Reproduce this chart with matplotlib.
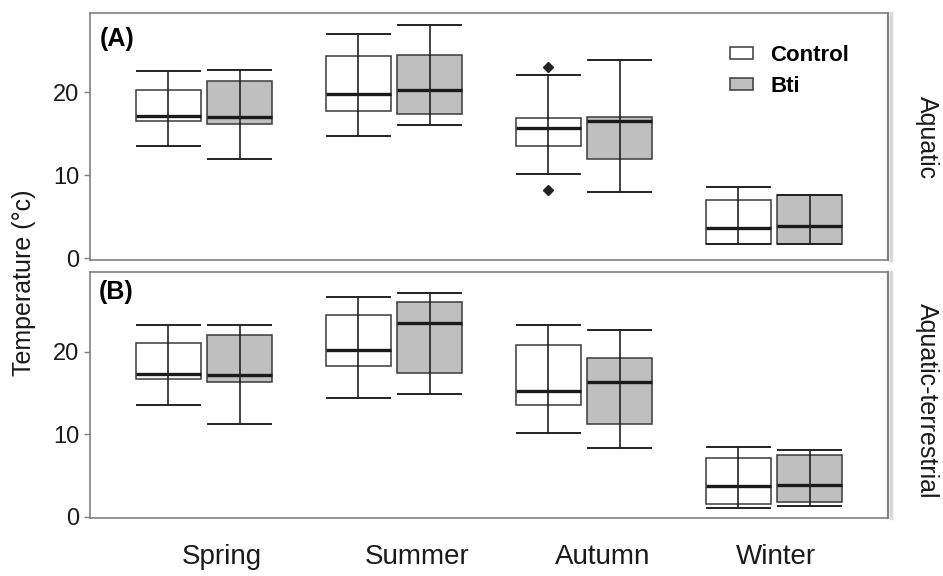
import matplotlib.pyplot as plt
from matplotlib.patches import Patch

plt.rcParams['font.family'] = ['Liberation Sans', 'DejaVu Sans']

seasons = ['Spring', 'Summer', 'Autumn', 'Winter']
groups = ['Control', 'Bti']
panels = ['Aquatic', 'Aquatic-terrestrial']
panel_tags = ['(A)', '(B)']

# [whislo, q1, med, q3, whishi] per season, for each panel / treatment
aquatic_control = [[13.5, 16.5, 17.1, 20.2, 22.5],
                   [14.7, 17.7, 19.8, 24.3, 27.0],
                   [10.2, 13.5, 15.7, 16.9, 22.1],
                   [1.7, 1.7, 3.65, 7.0, 8.55]]
aquatic_bti = [[11.9, 16.1, 16.95, 21.3, 22.7],
               [16.0, 17.3, 20.2, 24.5, 28.1],
               [7.95, 11.9, 16.5, 17.0, 23.9],
               [1.7, 1.7, 3.85, 7.6, 7.6]]
terr_control = [[13.5, 16.7, 17.3, 21.1, 23.3],
                [14.35, 18.3, 20.2, 24.5, 26.7],
                [10.2, 13.5, 15.3, 20.8, 23.3],
                [1.05, 1.6, 3.7, 7.15, 8.45]]
terr_bti = [[11.3, 16.4, 17.2, 22.1, 23.3],
            [14.95, 17.5, 23.55, 26.0, 27.2],
            [8.3, 11.3, 16.4, 19.3, 22.7],
            [1.35, 1.8, 3.85, 7.5, 8.15]]
# outliers (panel A, Autumn control)
aquatic_control_fliers = [[], [], [23.05, 8.2], []]

data = [[aquatic_control, aquatic_bti], [terr_control, terr_bti]]
fliers = [[aquatic_control_fliers, [[]] * 4], [[[]] * 4, [[]] * 4]]

season_pos = [0, 1, 2, 3]
label_pos = [0.095, 1.12, 2.1, 3.01]
offset = 0.187
box_w = 0.34
fills = ['white', '#bfbfbf']
spine_col = '#808080'

fig = plt.figure(figsize=(9.43, 5.76), dpi=100)
axA = fig.add_axes([0.0954, 0.5486, 0.8463, 0.4288])
axB = fig.add_axes([0.0954, 0.1007, 0.8463, 0.4271])

for p, ax in enumerate([axA, axB]):
    for g in range(2):
        stats = []
        for s in range(4):
            lo, q1, med, q3, hi = data[p][g][s]
            stats.append(dict(whislo=lo, q1=q1, med=med, q3=q3, whishi=hi,
                              fliers=fliers[p][g][s]))
        pos = [x + (2 * g - 1) * offset for x in season_pos]
        ax.bxp(stats, positions=pos, widths=box_w, capwidths=box_w - 0.01,
               patch_artist=True, manage_ticks=False,
               boxprops=dict(facecolor=fills[g], edgecolor='#3a3a3a', linewidth=1.1),
               medianprops=dict(color='#1a1a1a', linewidth=2.4, solid_capstyle='butt'),
               whiskerprops=dict(color='#222222', linewidth=1.2),
               capprops=dict(color='#222222', linewidth=1.4),
               flierprops=dict(marker='D', markersize=5, markerfacecolor='#222222',
                               markeredgecolor='#222222'))
        # whisker line runs through the box
        ax.vlines(pos, [d[1] for d in data[p][g]], [d[3] for d in data[p][g]],
                  color='#222222', linewidth=1.2, zorder=3)

    ax.set_xlim(-0.6, 3.6)
    ax.set_yticks([0, 10, 20])
    ax.tick_params(axis='y', labelsize=17, length=4, width=1, color=spine_col,
                   pad=3.5, labelcolor='#1a1a1a')
    for sp in ax.spines.values():
        sp.set_color(spine_col)
        sp.set_linewidth(1.2)
    ax.spines['right'].set_linewidth(1.6)
    # light strip just outside the right border
    ax.axvline(1.004, color='#d9d9d9', linewidth=2.5, clip_on=False)
    ax.lines[-1].set_transform(ax.transAxes)

axA.set_ylim(-0.2, 29.5)
axB.set_ylim(-0.15, 29.7)
axA.set_xticks([])
axB.set_xticks(label_pos)
axB.set_xticklabels(seasons, fontsize=20)
axB.tick_params(axis='x', length=0, pad=19, labelcolor='#1a1a1a')

axA.text(0.0125, 0.895, panel_tags[0], transform=axA.transAxes, fontsize=18,
         fontweight='bold', ha='left', va='center')
axB.text(0.0115, 0.919, panel_tags[1], transform=axB.transAxes, fontsize=18,
         fontweight='bold', ha='left', va='center')

handles = [Patch(facecolor=fills[i], edgecolor='#3a3a3a', linewidth=1.1) for i in range(2)]
axA.legend(handles, groups, loc='upper left', bbox_to_anchor=(0.802, 0.87),
           frameon=False, prop=dict(weight='bold', size=16), handlelength=1.05,
           handleheight=0.42, handletextpad=0.75, labelspacing=0.45, borderpad=0,
           borderaxespad=0)

fig.text(24 / 943, 0.5087, 'Temperature (°c)', rotation=90, fontsize=18,
         ha='center', va='center', color='#1a1a1a')
fig.text(0.983, 0.762, panels[0], rotation=270, fontsize=18, ha='center',
         va='center', color='#1a1a1a')
fig.text(0.983, 0.304, panels[1], rotation=270, fontsize=18, ha='center',
         va='center', color='#1a1a1a')

fig.savefig('out.png', dpi=100)
